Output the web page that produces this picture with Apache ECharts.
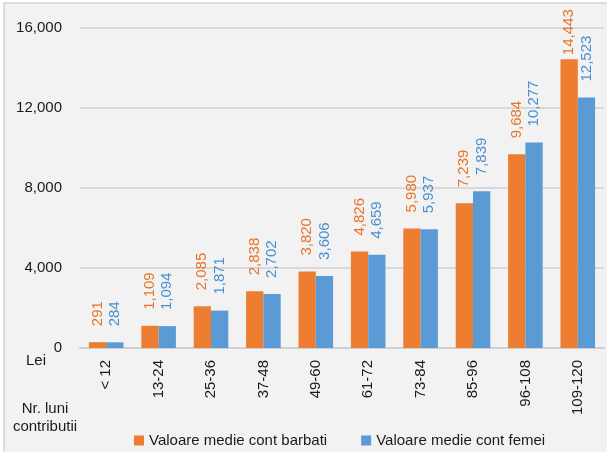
<!DOCTYPE html>
<html>
<head>
<meta charset="utf-8">
<script src="https://cdn.jsdelivr.net/npm/echarts@6/dist/echarts.min.js"></script>
<style>
  html, body { margin: 0; padding: 0; background: #fff; }
  #chart { width: 607px; height: 452px; }
</style>
</head>
<body>
<div id="chart"></div>
<script>
// categorii: nr. luni contributii
const categories = ['< 12', '13-24', '25-36', '37-48', '49-60', '61-72', '73-84', '85-96', '96-108', '109-120'];
const barbati = [291, 1109, 2085, 2838, 3820, 4826, 5980, 7239, 9684, 14443];
const femei = [284, 1094, 1871, 2702, 3606, 4659, 5937, 7839, 10277, 12523];
const yTicks = [0, 4000, 8000, 12000, 16000];

const FONT = "'Liberation Sans', Arial, sans-serif";
const fmt = v => v.toLocaleString('en-US');

function barLabel(color) {
  return {
    show: true,
    position: 'top',
    distance: 16,
    rotate: 90,
    align: 'left',
    verticalAlign: 'middle',
    color: color,
    fontSize: 15,
    fontFamily: FONT,
    formatter: p => fmt(p.value)
  };
}

// ultima bara barbati: eticheta mai apropiata (nu incape sus)
const barbatiData = barbati.map((v, i) => i === barbati.length - 1 ? { value: v, label: { distance: 4 } } : v);

const chart = echarts.init(document.getElementById('chart'));
chart.setOption({
  backgroundColor: '#ffffff',
  textStyle: { fontFamily: FONT },
  animation: false,
  graphic: [
    {
      type: 'rect', z: -100, silent: true,
      shape: { x: 4, y: 3, width: 640, height: 480 },
      style: { fill: '#f2f2f2', stroke: '#bfbfbf', lineWidth: 1 }
    },
    {
      type: 'text', x: 36, y: 361,
      style: { text: 'Lei', font: '15px ' + FONT, fill: '#1a1a1a', align: 'center', verticalAlign: 'middle' }
    },
    {
      type: 'text', x: 45, y: 400,
      style: { text: 'Nr. luni\ncontributii', font: '15px ' + FONT, fill: '#1a1a1a', align: 'center', lineHeight: 18 }
    }
  ],
  grid: { left: 80, right: 3, top: 28, bottom: 104 },
  legend: {
    left: 129,
    top: 428,
    itemWidth: 10,
    itemHeight: 10,
    itemGap: 34,
    icon: 'rect',
    textStyle: { fontSize: 15, color: '#1a1a1a', fontFamily: FONT },
    data: ['Valoare medie cont barbati', 'Valoare medie cont femei']
  },
  xAxis: {
    type: 'category',
    data: categories,
    axisLine: { lineStyle: { color: '#d0d0d0', width: 2 } },
    axisTick: { show: false },
    axisLabel: { rotate: 90, margin: 12, fontSize: 15, color: '#1a1a1a', interval: 0 }
  },
  yAxis: {
    type: 'value',
    min: yTicks[0],
    max: yTicks[yTicks.length - 1],
    interval: 4000,
    axisLine: { show: false },
    axisTick: { show: false },
    axisLabel: { margin: 18, fontSize: 15, color: '#1a1a1a', formatter: v => fmt(v) },
    splitLine: { lineStyle: { color: '#d9d9d9', width: 2 } }
  },
  series: [
    {
      name: 'Valoare medie cont barbati',
      type: 'bar',
      data: barbatiData,
      barGap: '0%',
      barCategoryGap: '34%',
      itemStyle: { color: '#ed7d31' },
      label: barLabel('#e8752b')
    },
    {
      name: 'Valoare medie cont femei',
      type: 'bar',
      data: femei,
      itemStyle: { color: '#5b9bd5' },
      label: barLabel('#4a90d0')
    }
  ]
});
</script>
</body>
</html>
